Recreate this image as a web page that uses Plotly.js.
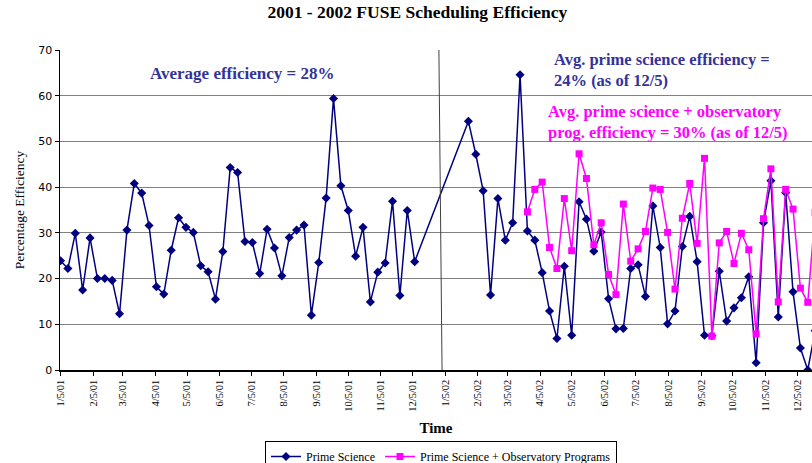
<!DOCTYPE html>
<html>
<head>
<meta charset="utf-8">
<script src="https://cdn.plot.ly/plotly-3.0.1.min.js"></script>
<style>html,body{margin:0;padding:0;background:#fff;}#chart{width:812px;height:463px;}</style>
</head>
<body>
<div id="chart"></div>
<script>
// ---- data ----
const start2001 = '2001-01-05';   // first weekly point of 2001
const start2002 = '2002-01-27';   // first weekly point of 2002
const startObs  = '2002-03-24';   // first point of the observatory series

const primeScience2001 = [23.9, 22.2, 29.9, 17.5, 28.9, 20.0, 20.0, 19.6, 12.3, 30.6,
  40.8, 38.7, 31.6, 18.2, 16.6, 26.2, 33.3, 31.2, 30.1, 22.8,
  21.5, 15.5, 25.9, 44.3, 43.2, 28.1, 27.9, 21.1, 30.8, 26.7,
  20.6, 29.0, 30.6, 31.7, 12.0, 23.5, 37.6, 59.4, 40.3, 34.9,
  24.9, 31.2, 14.9, 21.4, 23.4, 36.9, 16.3, 34.9, 23.7];

const primeScience2002 = [54.4, 47.2, 39.2, 16.4, 37.5, 28.4, 32.2, 64.6, 30.4, 28.4,
  21.3, 12.9, 6.9, 22.7, 7.6, 36.8, 33.0, 26.0, 30.2, 15.6,
  9.0, 9.1, 22.2, 23.0, 16.1, 35.9, 26.8, 10.1, 12.9, 27.0,
  33.6, 23.7, 7.6, 7.5, 21.6, 10.7, 13.6, 15.8, 20.4, 1.6,
  32.2, 41.4, 11.6, 38.8, 17.1, 4.8, 0, 8.6];

const primePlusObs = [34.6, 39.5, 41.1, 26.8, 22.2, 37.5, 26.1, 47.3, 41.9, 27.4,
  32.2, 20.9, 16.5, 36.3, 23.8, 26.5, 30.3, 39.8, 39.5, 30.1,
  17.7, 33.2, 40.8, 27.7, 46.3, 7.4, 27.8, 30.3, 23.3, 29.9,
  26.3, 7.9, 33.1, 44.0, 14.9, 39.5, 35.2, 17.9, 14.8, 34.4];

const tickDates = ['2001-01-05','2001-02-05','2001-03-05','2001-04-05','2001-05-05','2001-06-05',
  '2001-07-05','2001-08-05','2001-09-05','2001-10-05','2001-11-05','2001-12-05',
  '2002-01-05','2002-02-05','2002-03-05','2002-04-05','2002-05-05','2002-06-05',
  '2002-07-05','2002-08-05','2002-09-05','2002-10-05','2002-11-05','2002-12-05'];
const tickLabels = ['1/5/01','2/5/01','3/5/01','4/5/01','5/5/01','6/5/01','7/5/01','8/5/01',
  '9/5/01','10/5/01','11/5/01','12/5/01','1/5/02','2/5/02','3/5/02','4/5/02','5/5/02',
  '6/5/02','7/5/02','8/5/02','9/5/02','10/5/02','11/5/02','12/5/02'];

// weekly date labels for the values above
function weeklyDates(start, n) {
  const out = [];
  const d0 = new Date(start + 'T00:00:00Z');
  for (let i = 0; i < n; i++) {
    const d = new Date(d0.getTime() + i * 7 * 86400000);
    out.push(d.toISOString().slice(0, 10));
  }
  return out;
}

const primeDates = weeklyDates(start2001, primeScience2001.length)
  .concat(weeklyDates(start2002, primeScience2002.length));
const primeValues = primeScience2001.concat(primeScience2002);
const obsDates = weeklyDates(startObs, primePlusObs.length);

const serif = 'Liberation Serif, Times New Roman, serif';

const traces = [
  {
    x: primeDates, y: primeValues, type: 'scatter', mode: 'lines+markers',
    name: 'Prime Science',
    line: {color: '#000080', width: 1.5},
    marker: {symbol: 'diamond', size: 7, color: '#000080'},
    cliponaxis: true
  },
  {
    x: obsDates, y: primePlusObs, type: 'scatter', mode: 'lines+markers',
    name: 'Prime Science + Observatory Programs',
    line: {color: '#FF00FF', width: 1.5},
    marker: {symbol: 'square', size: 7, color: '#FF00FF'},
    cliponaxis: true
  }
];

// plot area in pixels: left 60, right 812, top 50, bottom 370
const px = x => (x - 60) / 752;
const py = y => (370 - y) / 320;

function label(x, y, text, color, size) {
  return {xref: 'paper', yref: 'paper', x: px(x), y: py(y), xanchor: 'left', yanchor: 'middle',
    text: '<b>' + text + '</b>', showarrow: false, align: 'left',
    font: {family: serif, size: size, color: color}};
}

const layout = {
  width: 812, height: 463,
  margin: {l: 60, r: 0, t: 50, b: 93, pad: 0, autoexpand: false},
  paper_bgcolor: '#fff', plot_bgcolor: '#fff',
  showlegend: true,
  title: {
    text: '<b>2001 - 2002 FUSE Scheduling Efficiency</b>',
    font: {family: serif, size: 17.5, color: '#000'},
    x: 0.514, xanchor: 'center', y: 0.974, yanchor: 'middle'
  },
  xaxis: {
    type: 'date',
    range: ['2001-01-04 12:00', '2002-12-19'],
    tickvals: tickDates, ticktext: tickLabels,
    tickangle: -90,
    tickfont: {family: serif, size: 10.5, color: '#000'},
    ticks: 'outside', ticklen: 4, tickcolor: '#000',
    showgrid: false, zeroline: false,
    showline: true, linecolor: '#000', linewidth: 1.5,
    title: {text: '<b>Time</b>', font: {family: serif, size: 15, color: '#000'}, standoff: 11},
    automargin: false
  },
  yaxis: {
    range: [0, 70], dtick: 10, tick0: 0,
    tickfont: {family: 'DejaVu Sans, Verdana, sans-serif', size: 11, color: '#000'},
    ticks: 'outside', ticklen: 4, tickcolor: '#000',
    showgrid: true, gridcolor: '#808080', gridwidth: 1,
    zeroline: false,
    showline: true, linecolor: '#000', linewidth: 1.5,
    title: {text: 'Percentage Efficiency', font: {family: serif, size: 13.5, color: '#000'}, standoff: 10},
    automargin: false
  },
  legend: {
    orientation: 'h', x: px(265), xanchor: 'left', y: py(441), yanchor: 'top',
    bordercolor: '#000', borderwidth: 1, bgcolor: '#fff',
    font: {family: serif, size: 12, color: '#000'},
    itemwidth: 30, tracegroupgap: 0
  },
  shapes: [
    {type: 'line', xref: 'x', yref: 'y', x0: '2001-12-30', x1: '2002-01-02', y0: 70, y1: 0,
     line: {color: '#404040', width: 1}}
  ],
  annotations: [
    label(148, 74, 'Average efficiency = 28%', '#333399', 17),
    label(552, 70, 'Avg. prime science efficiency =<br>24% (as of 12/5)', '#333399', 16.5),
    label(546, 122, 'Avg. prime science + observatory<br>prog. efficiency = 30% (as of 12/5)', '#FF00FF', 16.5)
  ]
};

Plotly.newPlot('chart', traces, layout, {displayModeBar: false, staticPlot: true});
</script>
</body>
</html>
